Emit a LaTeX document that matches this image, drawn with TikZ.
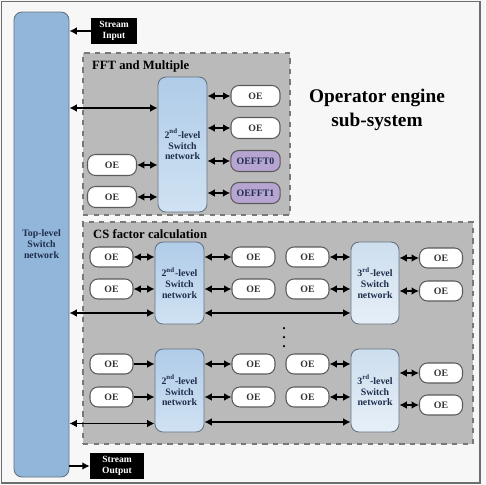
\documentclass[tikz,border=0pt]{standalone}
\usepackage{tikz}
\usepackage{fontspec}
\setmainfont{Liberation Serif}
\usetikzlibrary{arrows.meta}
\usepackage{xcolor}
\definecolor{pagebg}{RGB}{247,247,247}
\definecolor{framegray}{RGB}{110,110,110}
\definecolor{panelgray}{RGB}{186,186,186}
\definecolor{panelline}{RGB}{120,120,120}
\definecolor{topblue}{RGB}{145,182,218}
\definecolor{swline}{RGB}{100,115,130}
\definecolor{midtop}{RGB}{176,204,232}
\definecolor{midbot}{RGB}{208,226,243}
\definecolor{lowtop}{RGB}{205,222,238}
\definecolor{lowbot}{RGB}{230,239,248}
\definecolor{navytext}{RGB}{30,45,75}
\definecolor{oeline}{RGB}{90,90,90}
\definecolor{ffpurple}{RGB}{182,165,208}

\begin{document}
\begin{tikzpicture}[x=0.2mm, y=-0.2mm,
		topsw/.style={draw=swline, fill=topblue, rounded corners=1.6mm, line width=0.5pt, align=center, text=navytext, font=\fontsize{5.6}{6.2}\selectfont\bfseries, minimum width=11mm, minimum height=93mm},
		secsw/.style={draw=swline, top color=midtop, bottom color=midbot, rounded corners=1.6mm, line width=0.5pt, align=center, text=navytext, font=\fontsize{5.6}{6.2}\selectfont\bfseries, minimum width=9.8mm},
		thirdsw/.style={secsw, top color=lowtop, bottom color=lowbot, minimum width=9.6mm},
		oe/.style={draw=oeline, fill=white, rounded corners=1.6mm, line width=0.6pt, text=black!80, font=\fontsize{5.6}{6}\selectfont\bfseries, minimum width=8.6mm, minimum height=4mm},
		oefft/.style={oe, fill=ffpurple, text=navytext},
		stream/.style={fill=black, text=white, align=center, font=\fontsize{5.4}{6.2}\selectfont\bfseries, minimum height=5.2mm, inner sep=0pt},
		panel/.style={draw=panelline, fill=panelgray, dashed, line width=0.8pt, inner sep=0pt},
		dbl/.style={{Latex[length=4.2pt,width=4.4pt]}-{Latex[length=4.2pt,width=4.4pt]}, line width=0.8pt},
		sgl/.style={-{Latex[length=4.2pt,width=4.4pt]}, line width=0.8pt}]
	% Paths, nodes and wires:
	\useasboundingbox (0,0) rectangle (485,485);
	\fill[pagebg] (0,0) rectangle (485,485);
	\draw[framegray, line width=1pt] (1.5,1.5) rectangle (480,483);
	\node[panel, minimum width=41.4mm, minimum height=32.4mm](P1) at (186.5,134){};
	\node[panel, minimum width=78mm, minimum height=44.4mm](P2) at (278,333){};
	\node[anchor=west, font=\fontsize{7.2}{8}\selectfont\bfseries](T1) at (86,66){FFT and Multiple};
	\node[anchor=west, font=\fontsize{7.2}{8}\selectfont\bfseries](T2) at (87,234){CS factor calculation};
	\node[align=center, font=\fontsize{11}{14}\selectfont\bfseries](T3) at (377,110){Operator engine\\sub-system};
	\node[topsw](N1) at (41.5,244.5){Top-level\\Switch\\network};
	\node[stream, minimum width=9.2mm](N2) at (114,31){Stream\\Input};
	\node[stream, minimum width=10.8mm](N3) at (117,466){Stream\\Output};
	% FFT and Multiple
	\node[secsw, minimum height=27mm](N4) at (182.5,144.5){2\textsuperscript{nd}-level\\Switch\\network};
	\node[oe, minimum width=9.8mm, minimum height=4.2mm](N5) at (255.5,96){OE};
	\node[oe, minimum width=9.8mm, minimum height=4.2mm](N6) at (255.5,128){OE};
	\node[oefft, minimum width=9.8mm, minimum height=4.2mm](N7) at (255.5,161){OEFFT0};
	\node[oefft, minimum width=9.8mm, minimum height=4.2mm](N8) at (255.5,193){OEFFT1};
	\node[oe, minimum width=9.8mm, minimum height=4.2mm](N9) at (112,165){OE};
	\node[oe, minimum width=9.8mm, minimum height=4.2mm](N10) at (112,197){OE};
	% CS factor calculation, upper row
	\node[secsw, minimum height=16.4mm](N11) at (179.5,283){2\textsuperscript{nd}-level\\Switch\\network};
	\node[thirdsw, minimum height=16.4mm](N12) at (375,283){3\textsuperscript{rd}-level\\Switch\\network};
	\node[oe](N13) at (111.5,257){OE};
	\node[oe](N14) at (111.5,289){OE};
	\node[oe](N15) at (253.5,257){OE};
	\node[oe](N16) at (253.5,289){OE};
	\node[oe](N17) at (307.5,257){OE};
	\node[oe](N18) at (307.5,289){OE};
	\node[oe](N19) at (441,258){OE};
	\node[oe](N20) at (441,291){OE};
	% CS factor calculation, lower row
	\node[secsw, minimum height=16.6mm](N21) at (179.5,390.5){2\textsuperscript{nd}-level\\Switch\\network};
	\node[thirdsw, minimum height=16.6mm](N22) at (375,390.5){3\textsuperscript{rd}-level\\Switch\\network};
	\node[oe](N23) at (111.5,364){OE};
	\node[oe](N24) at (111.5,397){OE};
	\node[oe](N25) at (253.5,364){OE};
	\node[oe](N26) at (253.5,397){OE};
	\node[oe](N27) at (307.5,364){OE};
	\node[oe](N28) at (307.5,397){OE};
	\node[oe](N29) at (441,373){OE};
	\node[oe](N30) at (441,405){OE};
	\fill (284,328) circle (0.25mm);
	\fill (284,337) circle (0.25mm);
	\fill (284,346) circle (0.25mm);
	% stream in and out
	\draw[sgl] (N2.west) -- (N2.west -| N1.east);
	\draw[sgl] (N3.west -| N1.east) -- (N3.west);
	% top-level to 2nd-level
	\draw[dbl] ([yshift=7.3mm]N4.west -| N1.east) -- ([yshift=7.3mm]N4.west);
	\draw[dbl] ([yshift=-6mm]N11.west -| N1.east) -- ([yshift=-6mm]N11.west);
	\draw[dbl] ([yshift=-6.6mm]N21.west -| N1.east) -- ([yshift=-6.6mm]N21.west);
	% 2nd-level to 3rd-level
	\draw[dbl] ([yshift=-6mm]N11.east) -- ([yshift=-6mm]N11.east -| N12.west);
	\draw[dbl] ([yshift=-6.3mm]N21.east) -- ([yshift=-6.3mm]N21.east -| N22.west);
	% operator engines
	\draw[dbl] (N5.west) -- (N5.west -| N4.east);
	\draw[dbl] (N6.west) -- (N6.west -| N4.east);
	\draw[dbl] (N7.west) -- (N7.west -| N4.east);
	\draw[dbl] (N8.west) -- (N8.west -| N4.east);
	\draw[dbl] (N9.east) -- (N9.east -| N4.west);
	\draw[dbl] (N10.east) -- (N10.east -| N4.west);
	\draw[dbl] (N13.east) -- (N13.east -| N11.west);
	\draw[dbl] (N14.east) -- (N14.east -| N11.west);
	\draw[dbl] (N15.west) -- (N15.west -| N11.east);
	\draw[dbl] (N16.west) -- (N16.west -| N11.east);
	\draw[dbl] (N17.east) -- (N17.east -| N12.west);
	\draw[dbl] (N18.east) -- (N18.east -| N12.west);
	\draw[dbl] (N19.west) -- (N19.west -| N12.east);
	\draw[dbl] (N20.west) -- (N20.west -| N12.east);
	\draw[sgl] (N23.east) -- (N23.east -| N21.west);
	\draw[sgl] (N24.east) -- (N24.east -| N21.west);
	\draw[dbl] (N25.west) -- (N25.west -| N21.east);
	\draw[dbl] (N26.west) -- (N26.west -| N21.east);
	\draw[dbl] (N27.east) -- (N27.east -| N22.west);
	\draw[dbl] (N28.east) -- (N28.east -| N22.west);
	\draw[dbl] (N29.west) -- (N29.west -| N22.east);
	\draw[dbl] (N30.west) -- (N30.west -| N22.east);
\end{tikzpicture}
\end{document}
